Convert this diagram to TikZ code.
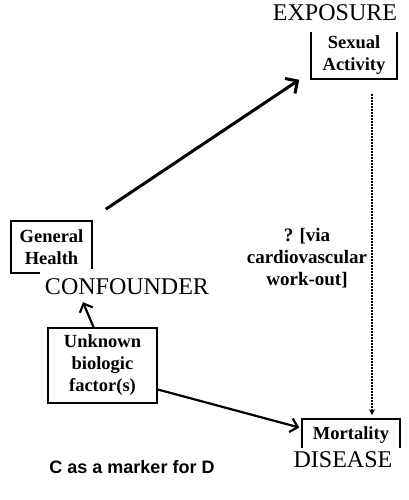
\documentclass[tikz,border=0pt]{standalone}
\usepackage{fontspec}
\setmainfont{Liberation Serif}
\newfontfamily\capfont{Liberation Sans}
\usetikzlibrary{arrows.meta}

\begin{document}
\begin{tikzpicture}[x=1pt, y=-1pt,
    box/.style={draw, line width=1.6pt, align=center, inner sep=0pt,
      font=\bfseries\fontsize{18.5}{22}\selectfont},
    tag/.style={fill=white, inner sep=0pt, font=\fontsize{24}{28}\selectfont},
    arr/.style={line width=2.2pt, -{Straight Barb[length=7pt, width=14pt]}}]

  \useasboundingbox[fill=white] (0,0) rectangle (408,500);

  % 1. Caixas das variáveis
  \node[box, minimum width=86pt, minimum height=48pt] (sa) at (354,55) {Sexual\\Activity};
  \node[box, minimum width=81pt, minimum height=52pt] (gh) at (51.5,247) {General\\Health};
  \node[box, minimum width=109pt, minimum height=75pt] (unk) at (102.5,365.5) {Unknown\\biologic\\factor(s)};
  \node[box, minimum width=98pt, minimum height=33pt] (mort) at (351,435.5) {Mortality};

  % 2. Rótulos por cima das caixas (fundo branco)
  \node[tag, minimum width=132pt, minimum height=38pt] (expo) at (335,13) {EXPOSURE};
  \node[tag, minimum width=174pt, minimum height=36pt] (conf) at (127,287) {CONFOUNDER};
  \node[tag, fill=none, minimum width=116pt, minimum height=24pt] (dis) at (343,460) {};
  \fill[white] (dis.north west) rectangle (dis.south east);
  \node[tag, fill=none] (distext) at (343,460) {DISEASE};

  % 3. Setas
  \draw[line width=3pt, -{Straight Barb[length=9pt, width=18pt]}]
    ([shift={(13,-11)}]gh.north east) -- ([shift={(-11,0)}]sa.south west);
  \draw[arr] ([shift={(-9,0)}]unk.north) -- ([shift={(-44,-3)}]conf.south);
  \draw[arr] ([shift={(0,24)}]unk.east) -- ([shift={(-2,-8)}]mort.west);

  \coordinate (dx) at (372,0);
  \path (sa.south -| dx) ++(0,14) coordinate (dtop);
  \draw[line width=2.2pt, dash pattern=on 2pt off 1pt, shorten >=3pt,
    -{Stealth[length=6pt, width=6pt]}] (dtop) -- (mort.north -| dx);

  % 4. Textos soltos
  \node[align=center, font=\bfseries\fontsize{19}{22}\selectfont] (via) at (307,258)
    {? [via\\cardiovascular\\work-out]};
  \node[font=\capfont\bfseries\fontsize{18}{22}\selectfont] (cap) at (132,467) {C as a marker for D};
\end{tikzpicture}
\end{document}
